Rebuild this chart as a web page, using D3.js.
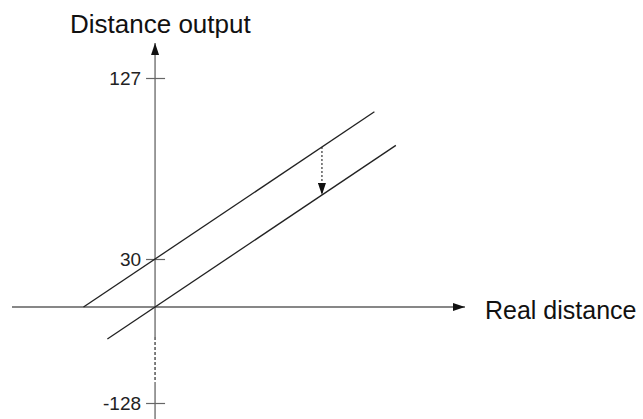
<!DOCTYPE html>
<html>
<head>
<meta charset="utf-8">
<script src="https://cdn.jsdelivr.net/npm/d3@7"></script>
<style>
  html, body { margin: 0; padding: 0; background: #fff; }
  svg { display: block; font-family: "Liberation Sans", Arial, Helvetica, sans-serif; }
</style>
</head>
<body>
<svg id="chart" width="643" height="419"></svg>
<script>
// Axis labels and tick values
const xTitle = "Real distance";
const yTitle = "Distance output";
const yTickValues = [-128, 30, 127];
const yTickLabels = ["-128", "30", "127"];

// Offset applied to the distance output
const offset = 30;

// Two transfer lines: ideal (output = real) and offset (output = real + offset)
const idealLine = [[-20, -20], [101, 101]];
const offsetLine = [[-30, 0], [92, 122]];

// Real distance where the offset is shown as a dotted arrow
const arrowAt = 70;

// Portion of the vertical axis drawn as a break (dotted)
const axisBreak = [-40, -100];

const svg = d3.select("#chart");

// Horizontal scale for real distance
const x = d3.scaleLinear().domain([-60, 130]).range([12, 465]);

// Schematic vertical axis: tick positions are not to scale
const yAxisScale = d3.scaleLinear()
  .domain([-128, 0, 30, 127])
  .range([403, 307, 259, 78]);

// Linear scale used for the plotted lines (extends the 0..30 segment)
const y = d3.scaleLinear().domain([0, offset]).range([yAxisScale(0), yAxisScale(offset)]);

const x0 = x(0), y0 = yAxisScale(0);

// Arrow markers
const defs = svg.append("defs");
defs.append("marker")
  .attr("id", "arrowBlack")
  .attr("viewBox", "0 0 12 8")
  .attr("refX", 12).attr("refY", 4)
  .attr("markerWidth", 12).attr("markerHeight", 8)
  .attr("markerUnits", "userSpaceOnUse")
  .attr("orient", "auto")
  .append("path").attr("d", "M0,0 L12,4 L0,8 Z").attr("fill", "#111");

defs.append("marker")
  .attr("id", "arrowSmall")
  .attr("viewBox", "0 0 12 8")
  .attr("refX", 12).attr("refY", 4)
  .attr("markerWidth", 12).attr("markerHeight", 8)
  .attr("markerUnits", "userSpaceOnUse")
  .attr("orient", "auto")
  .append("path").attr("d", "M0,0 L12,4 L0,8 Z").attr("fill", "#111");

// Horizontal axis
svg.append("line")
  .attr("x1", x.range()[0]).attr("x2", x.range()[1])
  .attr("y1", y0).attr("y2", y0)
  .attr("stroke", "#111").attr("stroke-width", 1.2)
  .attr("marker-end", "url(#arrowBlack)");

svg.append("text")
  .attr("x", x.range()[1] + 20).attr("y", y0 + 12)
  .attr("font-size", 25).attr("fill", "#111")
  .text(xTitle);

// Vertical axis: solid above the break, dotted break, solid below
const axisColor = "#666";
svg.append("line")
  .attr("x1", x0).attr("x2", x0)
  .attr("y1", yAxisScale(axisBreak[0])).attr("y2", 43)
  .attr("stroke", axisColor).attr("stroke-width", 1.3)
  .attr("marker-end", "url(#arrowBlack)");

svg.append("line")
  .attr("x1", x0).attr("x2", x0)
  .attr("y1", yAxisScale(axisBreak[0])).attr("y2", yAxisScale(axisBreak[1]))
  .attr("stroke", "#555").attr("stroke-width", 1.5)
  .attr("stroke-dasharray", "3,2");

svg.append("line")
  .attr("x1", x0).attr("x2", x0)
  .attr("y1", yAxisScale(axisBreak[1])).attr("y2", 419)
  .attr("stroke", axisColor).attr("stroke-width", 1.3);

svg.append("text")
  .attr("x", 70).attr("y", 33)
  .attr("font-size", 26).attr("fill", "#111")
  .text(yTitle);

// Tick marks and labels on the vertical axis
const yAxis = d3.axisLeft(yAxisScale)
  .tickValues(yTickValues)
  .tickFormat((d, i) => yTickLabels[i])
  .tickSizeInner(9)
  .tickPadding(5);

const axisG = svg.append("g")
  .attr("transform", `translate(${x0},0)`)
  .call(yAxis);
axisG.select(".domain").remove();
axisG.selectAll(".tick line")
  .attr("x1", 10).attr("x2", -9)
  .attr("stroke", axisColor).attr("stroke-width", 1.2);
axisG.selectAll(".tick text")
  .attr("font-size", 19)
  .attr("font-family", "'Liberation Sans', Arial, sans-serif")
  .attr("fill", "#222");

// Transfer lines
const line = d3.line().x(d => x(d[0])).y(d => y(d[1]));
[idealLine, offsetLine].forEach(pts => {
  svg.append("path")
    .attr("d", line(pts))
    .attr("fill", "none")
    .attr("stroke", "#222")
    .attr("stroke-width", 1.3);
});

// Dotted arrow showing the offset between the two lines
svg.append("line")
  .attr("x1", x(arrowAt)).attr("x2", x(arrowAt))
  .attr("y1", y(arrowAt + offset)).attr("y2", y(arrowAt))
  .attr("stroke", "#222").attr("stroke-width", 1.1)
  .attr("stroke-dasharray", "2,2")
  .attr("marker-end", "url(#arrowSmall)");
</script>
</body>
</html>
